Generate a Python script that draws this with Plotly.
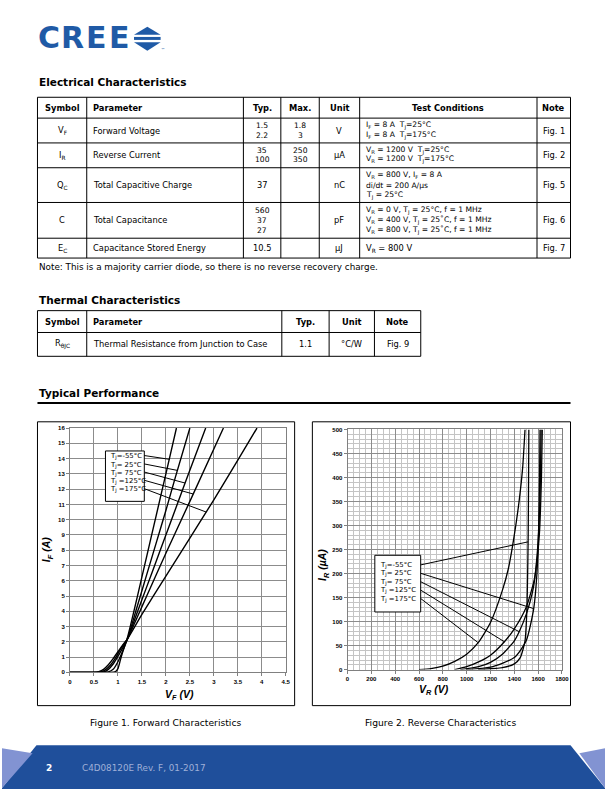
import plotly.graph_objects as go
import numpy as np

W, H = 612, 792
def X(px): return px / W
def Y(py): return 1 - py / H

# ---------------- data ----------------
temp_labels = ["T<sub>J</sub>=-55°C", "T<sub>J</sub>= 25°C", "T<sub>J</sub>= 75°C",
               "T<sub>J</sub> =125°C", "T<sub>J</sub> =175°C"]

# Figure 1: forward characteristics (V_F in V, I_F in A)
vf_m55 = [0, 0.8, 0.9, 0.95, 1.0, 1.05, 1.1, 1.2, 1.4, 1.6, 1.8, 2.0, 2.22]
if_m55 = [0, 0, 0.01, 0.05, 0.25, 0.8, 1.35, 2.3, 4.9, 7.6, 10.3, 13.0, 16.0]
vf_25 = [0, 0.7, 0.8, 0.9, 1.0, 1.1, 1.2, 1.4, 1.6, 1.8, 2.0, 2.2, 2.5]
if_25 = [0, 0, 0.03, 0.2, 0.7, 1.4, 2.2, 4.3, 6.4, 8.5, 10.6, 12.8, 16.0]
vf_75 = [0, 0.6, 0.7, 0.8, 0.9, 1.0, 1.1, 1.2, 1.4, 1.6, 1.8, 2.0, 2.4, 2.83]
if_75 = [0, 0, 0.03, 0.2, 0.55, 1.05, 1.6, 2.2, 3.9, 5.6, 7.3, 9.0, 12.4, 16.0]
vf_125 = [0, 0.55, 0.65, 0.75, 0.85, 0.95, 1.05, 1.2, 1.4, 1.6, 2.0, 2.5, 3.2]
if_125 = [0, 0, 0.04, 0.2, 0.5, 0.95, 1.5, 2.2, 3.6, 5.0, 7.8, 11.2, 16.0]
vf_175 = [0, 0.5, 0.6, 0.7, 0.8, 0.9, 1.0, 1.1, 1.2, 1.5, 2.0, 2.5, 3.0, 3.5, 3.9]
if_175 = [0, 0, 0.05, 0.2, 0.5, 0.9, 1.35, 1.8, 2.2, 3.8, 6.3, 8.8, 11.3, 13.9, 16.0]

# Figure 2: reverse characteristics (V_R in V, I_R in uA)
vr_m55 = [1100, 1300, 1400, 1450, 1490, 1505, 1512, 1516, 1520, 1522]
ir_m55 = [0, 4, 12, 25, 60, 120, 200, 266, 400, 500]
vr_25 = [1000, 1200, 1400, 1500, 1563, 1590, 1605, 1612, 1616]
ir_25 = [0, 5, 25, 60, 127, 200, 300, 400, 500]
vr_75 = [950, 1100, 1200, 1300, 1400, 1441, 1500, 1560, 1595, 1615, 1625]
ir_75 = [0, 6, 15, 32, 60, 79, 115, 170, 250, 350, 500]
vr_125 = [900, 1000, 1100, 1200, 1317, 1400, 1500, 1570, 1610, 1628, 1635]
ir_125 = [0, 6, 16, 30, 58, 85, 130, 190, 280, 400, 500]
vr_175 = [600, 700, 800, 900, 1000, 1097, 1200, 1300, 1350, 1400, 1440, 1470, 1490]
ir_175 = [0, 2, 7, 17, 32, 56, 98, 165, 210, 280, 350, 420, 500]

fwd_v = [vf_m55, vf_25, vf_75, vf_125, vf_175]
fwd_i = [if_m55, if_25, if_75, if_125, if_175]
rev_v = [vr_m55, vr_25, vr_75, vr_125, vr_175]
rev_i = [ir_m55, ir_25, ir_75, ir_125, ir_175]

# Tables
elec_headers = ["Symbol", "Parameter", "Typ.", "Max.", "Unit", "Test Conditions", "Note"]
elec_symbol = ["V<sub>F</sub>", "I<sub>R</sub>", "Q<sub>C</sub>", "C", "E<sub>C</sub>"]
elec_param = ["Forward Voltage", "Reverse Current", "Total Capacitive Charge",
              "Total Capacitance", "Capacitance Stored Energy"]
elec_typ = [["1.5", "2.2"], ["35", "100"], ["37"], ["560", "37", "27"], ["10.5"]]
elec_max = [["1.8", "3"], ["250", "350"], [], [], []]
elec_unit = ["V", "μA", "nC", "pF", "μJ"]
elec_cond = [
    ["I<sub>F</sub> = 8 A  T<sub>J</sub>=25°C", "I<sub>F</sub> = 8 A  T<sub>J</sub>=175°C"],
    ["V<sub>R</sub> = 1200 V  T<sub>J</sub>=25°C", "V<sub>R</sub> = 1200 V  T<sub>J</sub>=175°C"],
    ["V<sub>R</sub> = 800 V, I<sub>F</sub> = 8 A", "di/dt = 200 A/μs", "T<sub>J</sub> = 25°C"],
    ["V<sub>R</sub> = 0 V, T<sub>J</sub> = 25°C, f = 1 MHz",
     "V<sub>R</sub> = 400 V, T<sub>J</sub> = 25˚C, f = 1 MHz",
     "V<sub>R</sub> = 800 V, T<sub>J</sub> = 25˚C, f = 1 MHz"],
    ["V<sub>R</sub> = 800 V"],
]
elec_note = ["Fig. 1", "Fig. 2", "Fig. 5", "Fig. 6", "Fig. 7"]

therm_headers = ["Symbol", "Parameter", "Typ.", "Unit", "Note"]
therm_row = ["R<sub>θJC</sub>", "Thermal Resistance from Junction to Case", "1.1", "°C/W", "Fig. 9"]

FONT = "DejaVu Sans"
BODY = 8.3
MULTI = 7.6
shapes = []
annots = []

def txt(x, y, s, size=BODY, bold=False, anchor="center", color="black", family=FONT, weight=None, **kw):
    w = weight if weight else ("bold" if bold else "normal")
    annots.append(dict(x=X(x), y=Y(y), xref="paper", yref="paper", text=s, showarrow=False,
                       xanchor=anchor, yanchor="middle",
                       font=dict(family=family, size=size, color=color, weight=w), **kw))

def line(x0, y0, x1, y1, w=1, color="black"):
    shapes.append(dict(type="line", xref="paper", yref="paper", x0=X(x0), y0=Y(y0),
                       x1=X(x1), y1=Y(y1), line=dict(color=color, width=w)))

def rect(x0, y0, x1, y1, w=1, color="black"):
    shapes.append(dict(type="rect", xref="paper", yref="paper", x0=X(x0), y0=Y(y0),
                       x1=X(x1), y1=Y(y1), line=dict(color=color, width=w),
                       fillcolor="rgba(0,0,0,0)", layer="above"))

def poly(pts, fill):
    p = "M " + " L ".join(f"{X(a):.5f},{Y(b):.5f}" for a, b in pts) + " Z"
    shapes.append(dict(type="path", xref="paper", yref="paper", path=p,
                       fillcolor=fill, line=dict(width=0), layer="below"))

# ---------------- logo ----------------
BLUE = "#1f5aa6"
for ch, cx in zip("CREE", [47.5, 71.5, 95.5, 119]):
    txt(cx, 34.5, ch, size=30, color=BLUE, weight=900)
poly([(134, 32), (147.5, 24), (161, 32)], BLUE)
poly([(134, 34.2), (161, 34.2), (161, 37.2), (134, 37.2)], BLUE)
poly([(134, 39.5), (161, 39.5), (147.5, 48)], BLUE)
txt(163, 47, "™", size=4, color=BLUE)

# ---------------- electrical table ----------------
txt(36, 80, "Electrical Characteristics", size=10.5, bold=True, anchor="left")
ecols = [36, 86, 245, 283, 322, 363, 543, 577]
erows = [95, 116, 141, 166, 201, 237, 257]
rect(ecols[0], erows[0], ecols[-1], erows[-1])
for c in ecols[1:-1]:
    line(c, erows[0], c, erows[-1])
for r in erows[1:-1]:
    line(ecols[0], r, ecols[-1], r)
centers = [(ecols[i] + ecols[i + 1]) / 2 for i in range(len(ecols) - 1)]
hy = (erows[0] + erows[1]) / 2
for i, h in enumerate(elec_headers):
    if i == 1:
        txt(ecols[1] + 4, hy, h, bold=True, anchor="left")
    else:
        txt(centers[i], hy, h, bold=True)

def multiline(x, ymid, lines, anchor="center"):
    n = len(lines)
    ls = 9.2 if n == 2 else 10.0
    for k, s in enumerate(lines):
        txt(x, ymid + (k - (n - 1) / 2) * ls, s, anchor=anchor, size=MULTI if n > 1 else BODY)

for r in range(5):
    ym = (erows[r + 1] + erows[r + 2]) / 2
    txt(centers[0], ym, elec_symbol[r])
    txt(ecols[1] + 4, ym, elec_param[r], anchor="left")
    multiline(centers[2], ym, elec_typ[r])
    multiline(centers[3], ym, elec_max[r])
    txt(centers[4], ym, elec_unit[r])
    multiline(ecols[5] + 4, ym, elec_cond[r], anchor="left")
    txt(centers[6], ym, elec_note[r])

txt(36, 266, "Note: This is a majority carrier diode, so there is no reverse recovery charge.",
    size=8.8, anchor="left")

# ---------------- thermal table ----------------
txt(36, 299, "Thermal Characteristics", size=10.5, bold=True, anchor="left")
tcols = [36, 86, 284, 332, 378, 425]
trows = [310, 332, 356]
rect(tcols[0], trows[0], tcols[-1], trows[-1])
for c in tcols[1:-1]:
    line(c, trows[0], c, trows[-1])
line(tcols[0], trows[1], tcols[-1], trows[1])
tcent = [(tcols[i] + tcols[i + 1]) / 2 for i in range(len(tcols) - 1)]
for i, h in enumerate(therm_headers):
    if i == 1:
        txt(tcols[1] + 4, (trows[0] + trows[1]) / 2, h, bold=True, anchor="left")
    else:
        txt(tcent[i], (trows[0] + trows[1]) / 2, h, bold=True)
for i, s in enumerate(therm_row):
    ym = (trows[1] + trows[2]) / 2
    if i == 1:
        txt(tcols[1] + 4, ym, s, anchor="left")
    else:
        txt(tcent[i], ym, s)

# ---------------- typical performance ----------------
txt(36, 393, "Typical Performance", size=10.5, bold=True, anchor="left")
line(36, 403, 577, 403, w=2)
rect(36, 422, 297, 708)
rect(315, 422, 577, 708)
txt(166, 725, "Figure 1. Forward Characteristics", size=9.2)
txt(445, 725, "Figure 2. Reverse Characteristics", size=9.2)

# axis titles
txt(46, 551, "<b><i>I<sub>F</sub> (A)</i></b>", size=10.5, family="Liberation Sans", textangle=-90)
txt(180, 697, "<b><i>V<sub>F</sub> (V)</i></b>", size=10.5, family="Liberation Sans")
txt(326, 566, "<b><i>I<sub>R</sub> (µA)</i></b>", size=10.5, family="Liberation Sans", textangle=-90)
txt(438, 692, "<b><i>V<sub>R</sub> (V)</i></b>", size=10.5, family="Liberation Sans")

# ---------------- footer ----------------
DARK = "#1f4f9b"
LIGHT = "#8293d2"
poly([(35, 748), (577, 748), (612, 791), (612, 792), (0, 792), (0, 791)], DARK)
poly([(0, 751), (31, 756), (0, 791)], LIGHT)
poly([(612, 751), (586, 756), (612, 791)], LIGHT)
txt(43, 771, "2", size=9, bold=True, color="white", anchor="left")
txt(79, 771, "C4D08120E Rev. F, 01-2017", size=8.8, color="#9fb0d8", anchor="left")

# ---------------- charts ----------------
fig = go.Figure()
for v, i in zip(fwd_v, fwd_i):
    fig.add_trace(go.Scatter(x=v, y=i, mode="lines", xaxis="x", yaxis="y",
                             line=dict(color="black", width=1.4, shape="spline", smoothing=0.6),
                             hoverinfo="skip"))
for v, i in zip(rev_v, rev_i):
    fig.add_trace(go.Scatter(x=v, y=i, mode="lines", xaxis="x2", yaxis="y2",
                             line=dict(color="black", width=1.3, shape="spline", smoothing=0.6),
                             hoverinfo="skip"))

# legend boxes with leader lines (data coordinates)
c1_text_y = [14.15, 13.6, 13.07, 12.53, 11.98]
c1_leader_v = [2.07, 2.24, 2.40, 2.57, 2.84]
shapes.append(dict(type="rect", xref="x", yref="y", x0=0.74, x1=1.55, y0=11.2, y1=14.5,
                   line=dict(color="black", width=1), fillcolor="white", layer="above"))
for k in range(5):
    annots.append(dict(x=0.80, y=c1_text_y[k], xref="x", yref="y", text=temp_labels[k],
                       showarrow=False, xanchor="left", yanchor="middle",
                       font=dict(family=FONT, size=6.9, color="black")))
    ye = float(np.interp(c1_leader_v[k], fwd_v[k], fwd_i[k]))
    shapes.append(dict(type="line", xref="x", yref="y", x0=1.55, y0=c1_text_y[k] + 0.05,
                       x1=c1_leader_v[k], y1=ye, line=dict(color="black", width=1)))

c2_text_y = [218, 200.5, 183, 165.5, 148]
c2_leader_v = [1516, 1563, 1441, 1317, 1097]
shapes.append(dict(type="rect", xref="x2", yref="y2", x0=229, x1=614, y0=120, y1=238,
                   line=dict(color="black", width=1), fillcolor="white", layer="above"))
for k in range(5):
    annots.append(dict(x=255, y=c2_text_y[k], xref="x2", yref="y2", text=temp_labels[k],
                       showarrow=False, xanchor="left", yanchor="middle",
                       font=dict(family=FONT, size=6.9, color="black")))
    ye = float(np.interp(c2_leader_v[k], rev_v[k], rev_i[k]))
    shapes.append(dict(type="line", xref="x2", yref="y2", x0=614, y0=c2_text_y[k],
                       x1=c2_leader_v[k], y1=ye, line=dict(color="black", width=1)))

tickf = dict(family="Liberation Sans", size=6, color="black", weight="bold")
ax_common = dict(showline=True, mirror=True, linecolor="#808080", linewidth=1,
                 zeroline=False, ticks="outside", ticklen=3, tickcolor="#808080",
                 tickfont=tickf, fixedrange=True)

fig.update_layout(
    width=W, height=H, margin=dict(l=0, r=0, t=0, b=0),
    paper_bgcolor="white", plot_bgcolor="white", showlegend=False,
    xaxis=dict(domain=[X(69), X(288)], range=[0, 4.5], dtick=0.5, anchor="y",
               showgrid=True, gridcolor="#8c8c8c", gridwidth=1, **ax_common),
    yaxis=dict(domain=[Y(674.5), Y(428.3)], range=[0, 16], dtick=1, anchor="x",
               showgrid=True, gridcolor="#8c8c8c", gridwidth=1, **ax_common),
    xaxis2=dict(domain=[X(350.7), X(568.3)], range=[0, 1800], dtick=200, anchor="y2",
                showgrid=True, gridcolor="#8c8c8c", gridwidth=1,
                minor=dict(dtick=50, showgrid=True, gridcolor="#c4c4c4", gridwidth=1), **ax_common),
    yaxis2=dict(domain=[Y(671.7), Y(429.7)], range=[0, 500], dtick=50, anchor="x2",
                showgrid=True, gridcolor="#8c8c8c", gridwidth=1,
                minor=dict(dtick=10, showgrid=True, gridcolor="#c4c4c4", gridwidth=1), **ax_common),
    shapes=shapes, annotations=annots,
)

fig.write_html("out.html")
